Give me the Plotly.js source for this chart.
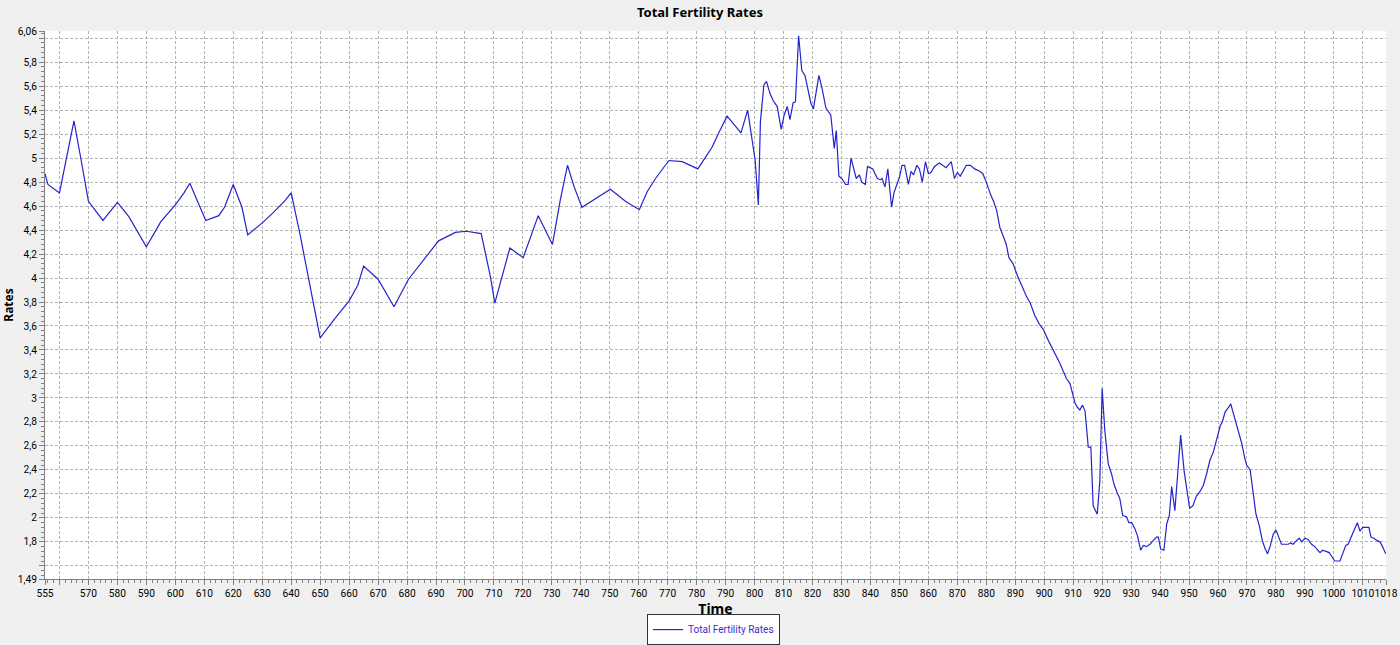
<!DOCTYPE html>
<html>
<head>
<meta charset="utf-8">
<script src="https://cdn.plot.ly/plotly-3.0.1.min.js"></script>
<style>html,body{margin:0;padding:0;background:#f0f0f0;}#chart{width:1400px;height:645px;}</style>
</head>
<body>
<div id="chart"></div>
<script>
// Years (x)
const years = [
555,556,560,563,565,567.5,570,575,580,584,590,595,600,603,605,610.5,615,617,620,623,625,630,634,638,640,
643,645,648,650,655,660,663,665,670,675.5,680.5,685.7,690.9,696.7,700.5,705.6,708.8,710.3,715.5,720.1,
725.3,730.2,732.9,735.4,737.7,740.4,745,750.2,755.4,760.2,762.9,765.8,770.4,775,780.4,785.3,787.6,790.5,
795.3,797.6,800.2,801.3,802,803.2,804.1,805.3,806.4,807.8,809.2,810.2,811.3,812.2,813.3,814.1,815.2,
816.3,817.4,818.6,819.4,820.3,822.2,823.4,824.6,826.3,827.5,828.2,829.1,830.1,831.4,832.3,833.3,835.1,
836.2,837,838.2,839,840.8,842.4,843.5,844,845,846,847.3,848.1,849.1,850,850.9,851.8,853.1,854,854.9,
856,856.9,857.9,859,860,860.9,862.1,863.8,865,866.1,867.9,869,870,871,873.1,874.5,876,877.7,878.8,880,
881.4,882.5,883.5,884.7,886,886.9,887.8,889.2,890.9,892.6,893.8,895.2,896.7,898.2,899.7,901.4,902.9,
904.2,905.4,906.6,907.7,908.9,909.8,910.6,911.5,912.3,913.2,914.1,915.2,916.1,916.9,918.3,919.2,920,
920.9,922.1,923.2,924.1,925.2,926.1,927.1,928.4,929.2,930.2,931.3,932.2,933.3,934.2,935.3,936.5,937.6,
938.8,939.4,940.2,941.3,942.3,943.2,944,945.1,946.3,947.1,948.3,949.2,950.2,951.3,952.5,953.8,954.9,
956.1,957.2,958.4,959.7,960.8,961.5,962.4,963.3,964.4,965.2,966.4,967.3,968.2,969.3,969.9,971.1,972.1,
973.1,974.2,975.3,976.3,977.1,978.1,979,980,980.9,981.9,983.1,984.2,985.1,985.9,987.1,988,988.9,990,
991.1,992.3,993.4,994.2,995.2,996.1,997.5,998.4,999.2,1000.3,1001.3,1002.1,1003.2,1004.1,1004.9,1005.8,
1006.7,1007.3,1008.1,1009,1010,1011.1,1012.1,1012.8,1013.8,1015,1015.9,1016.8,1017.9
];
// Total fertility rates
const rates = [
4.87,4.78,4.71,5.08,5.31,4.98,4.64,4.48,4.63,4.51,4.26,4.47,4.61,4.71,4.79,4.48,4.52,4.59,4.78,4.59,4.36,4.46,4.55,4.65,4.71,
4.37,4.13,3.74,3.50,3.66,3.81,3.94,4.10,3.99,3.76,3.99,4.15,4.31,4.38,4.39,4.37,4.01,3.79,4.25,4.17,
4.52,4.28,4.65,4.94,4.76,4.59,4.66,4.74,4.64,4.57,4.72,4.83,4.98,4.97,4.91,5.09,5.21,5.35,
5.21,5.40,4.98,4.61,5.30,5.61,5.64,5.54,5.48,5.43,5.24,5.36,5.43,5.32,5.46,5.47,6.02,
5.73,5.69,5.54,5.46,5.41,5.69,5.57,5.42,5.36,5.08,5.23,4.85,4.83,4.78,4.78,5.00,4.83,
4.86,4.80,4.78,4.93,4.91,4.83,4.82,4.83,4.76,4.91,4.59,4.71,4.78,4.84,4.94,4.94,4.78,4.89,4.86,
4.94,4.91,4.80,4.97,4.87,4.88,4.93,4.96,4.94,4.92,4.97,4.83,4.88,4.85,4.94,4.94,4.91,4.89,4.87,4.80,
4.70,4.64,4.57,4.42,4.34,4.28,4.17,4.12,4.01,3.91,3.85,3.79,3.69,3.62,3.57,3.48,3.41,
3.34,3.29,3.22,3.16,3.12,3.04,2.96,2.92,2.90,2.94,2.89,2.59,2.59,2.10,2.03,2.31,3.08,
2.73,2.45,2.37,2.28,2.21,2.16,2.02,2.01,1.96,1.96,1.91,1.85,1.73,1.77,1.76,1.78,1.81,
1.84,1.84,1.74,1.73,1.95,2.02,2.26,2.06,2.48,2.69,2.39,2.26,2.08,2.10,2.18,2.22,2.27,
2.37,2.48,2.55,2.68,2.77,2.80,2.88,2.91,2.95,2.88,2.77,2.69,2.62,2.49,2.44,2.40,2.21,
2.03,1.94,1.81,1.74,1.70,1.77,1.86,1.90,1.84,1.78,1.78,1.78,1.79,1.78,1.81,1.83,1.80,1.83,
1.82,1.78,1.76,1.74,1.71,1.73,1.72,1.71,1.68,1.64,1.64,1.64,1.71,1.77,1.78,1.83,
1.87,1.90,1.96,1.89,1.92,1.92,1.92,1.84,1.83,1.81,1.80,1.76,1.70
];
// Tick positions / labels
const xTickVals = [555,560,570,580,590,600,610,620,630,640,650,660,670,680,690,700,710,720,730,740,750,760,770,780,790,800,810,820,830,840,850,860,870,880,890,900,910,920,930,940,950,960,970,980,990,1000,1010,1018];
const xTickText = xTickVals.map(v => v === 560 ? '' : String(v));
const yTickVals = [1.49,1.6,1.8,2.0,2.2,2.4,2.6,2.8,3.0,3.2,3.4,3.6,3.8,4.0,4.2,4.4,4.6,4.8,5.0,5.2,5.4,5.6,5.8,6.0,6.06];
const yTickText = ['1,49','','1,8','2','2,2','2,4','2,6','2,8','3','3,2','3,4','3,6','3,8','4','4,2','4,4','4,6','4,8','5','5,2','5,4','5,6','5,8','','6,06'];

const FONT = 'Noto Sans, Open Sans, DejaVu Sans, sans-serif';
const TICKFONT = 'Roboto, Noto Sans, sans-serif';

const trace = {
  x: years, y: rates, type: 'scatter', mode: 'lines',
  name: 'Total Fertility Rates',
  line: {color: '#2424cc', width: 1.2}
};

const gridCommon = {
  showgrid: true, gridcolor: '#b4b4b4', griddash: '3px,2px', gridwidth: 1,
  zeroline: false, showline: true, linecolor: '#808080', linewidth: 1,
  ticks: 'outside', ticklen: 5, tickcolor: '#808080',
  tickfont: {family: TICKFONT, size: 10.2, color: '#000'}
};

const layout = {
  width: 1400, height: 645,
  paper_bgcolor: '#f0f0f0', plot_bgcolor: '#ffffff',
  margin: {l: 45, r: 14, t: 30.5, b: 66, autoexpand: false},
  title: {text: '<b>Total Fertility Rates</b>', x: 0.5, xanchor: 'center', y: 0.981, yanchor: 'middle',
          yref: 'container', font: {family: FONT, size: 13, color: '#000'}},
  xaxis: Object.assign({}, gridCommon, {
    range: [555, 1018], tickmode: 'array', tickvals: xTickVals, ticktext: xTickText, tickangle: 0,
    minor: {tickmode: 'linear', tick0: 0, dtick: 2, ticks: 'outside', ticklen: 3, tickcolor: '#808080', showgrid: false},
    title: {text: '<b>Time</b>', standoff: 1, font: {family: FONT, size: 14, color: '#000'}}
  }),
  yaxis: Object.assign({}, gridCommon, {
    range: [1.49, 6.06], tickmode: 'array', tickvals: yTickVals, ticktext: yTickText,
    minor: {tickmode: 'linear', tick0: 0, dtick: 0.04, ticks: 'outside', ticklen: 3, tickcolor: '#808080', showgrid: false},
    title: {text: '<b>Rates</b>', standoff: 3, font: {family: FONT, size: 12, color: '#000'}}
  }),
  showlegend: true,
  legend: {orientation: 'h', x: 0.4985, xanchor: 'center', y: -0.064, yanchor: 'top',
           bgcolor: '#ffffff', bordercolor: '#333333', borderwidth: 1,
           font: {family: TICKFONT, size: 10, color: '#3a2bd0'}, itemwidth: 30}
};

Plotly.newPlot('chart', [trace], layout, {displayModeBar: false, staticPlot: true});
</script>
</body>
</html>
